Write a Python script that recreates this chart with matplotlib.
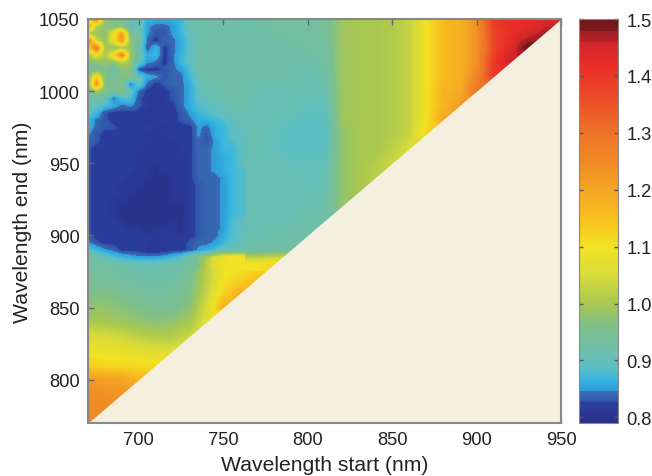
import numpy as np
import matplotlib
matplotlib.use('Agg')
import matplotlib.pyplot as plt
from matplotlib.colors import LinearSegmentedColormap, Normalize

plt.rcParams['font.family'] = ['Liberation Sans', 'DejaVu Sans']

VMIN, VMAX = 0.79, 1.5
BACKGROUND = '#f5efe0'
MIN_BAND = 100  # end is always at least this far above start

# colour stops, value then colour
cmap_values = [0.79, 0.825, 0.825, 0.845, 0.845, 0.865, 0.885, 0.92, 0.96, 1.0, 1.05, 1.1,
               1.15, 1.2, 1.25, 1.3, 1.36, 1.42, 1.46, 1.46, 1.48, 1.48, 1.5]
cmap_colors = ['#2a2f85', '#2b3fa0', '#2f52a8', '#3a6db5', '#2f9ad6', '#35b4e2', '#5bbfc8',
               '#6fbfa8', '#7fc08a', '#a8c850', '#d8dc3a', '#f2e222', '#f8c01e', '#f4a624',
               '#f08a24', '#ee7428', '#ec4c28', '#e92d27', '#d0252a', '#b52025', '#a01f22',
               '#7f1a1c', '#6d1518']

# upper left block, 5 nm steps
detail_starts = list(range(670, 765, 5))
detail_ends = list(range(1050, 875, -5))
detail_rows = [
    [.97, 1.28, .98, .96, .95, .93, .90, .87, .86, .86, .86, .87, .91, .92, .92, .92, .92, .92, .92],
    [1.22, 1.02, .97, .96, .97, .89, .92, .85, .84, .84, .85, .87, .91, .92, .92, .92, .92, .92, .92],
    [1.02, .98, .97, 1.08, 1.22, .96, .92, .85, .83, .83, .85, .87, .90, .92, .92, .92, .92, .92, .92],
    [1.28, 1.05, .98, 1.08, 1.22, .98, .93, .84, .82, .84, .84, .86, .89, .92, .92, .92, .92, .92, .92],
    [1.10, 1.30, 1.0, .98, 1.0, .98, .92, .83, .87, .82, .84, .86, .89, .92, .92, .92, .92, .92, .92],
    [1.0, 1.08, 1.0, 1.10, 1.28, 1.0, .92, .86, .87, .82, .84, .87, .89, .92, .92, .92, .92, .92, .92],
    [.96, .97, .98, .98, 1.02, .98, .90, .85, .84, .82, .84, .87, .89, .92, .92, .92, .92, .92, .92],
    [.93, .94, .96, .92, .97, .97, .83, .82, .82, .83, .84, .85, .88, .92, .92, .92, .92, .92, .92],
    [.95, 1.12, .96, .93, .96, .97, .90, .86, .85, .83, .84, .84, .87, .91, .92, .92, .92, .92, .92],
    [.96, 1.25, .97, .95, .96, .84, .90, .84, .82, .83, .84, .84, .86, .90, .91, .92, .92, .92, .92],
    [.93, 1.0, .96, .94, .96, .90, .84, .82, .82, .82, .83, .84, .86, .89, .91, .91, .92, .92, .92],
    [.91, .92, .92, .84, .88, .88, .83, .82, .81, .82, .83, .84, .86, .89, .90, .91, .91, .92, .92],
    [.90, .90, .88, .86, .84, .85, .83, .82, .81, .82, .82, .84, .86, .88, .89, .90, .91, .91, .92],
    [.89, .87, .83, .82, .82, .82, .82, .81, .81, .82, .82, .83, .85, .87, .88, .89, .90, .91, .91],
    [.87, .84, .83, .82, .82, .82, .82, .81, .81, .82, .82, .83, .84, .86, .86, .87, .88, .90, .91],
    [.86, .84, .83, .83, .82, .82, .82, .82, .81, .81, .82, .82, .82, .85, .84, .86, .87, .89, .90],
    [.85, .83, .82, .82, .82, .82, .82, .81, .81, .81, .82, .82, .82, .85, .83, .86, .87, .89, .90],
    [.84, .83, .82, .82, .82, .82, .82, .81, .81, .81, .81, .82, .82, .84, .83, .85, .87, .88, .89],
    [.83, .82, .82, .82, .82, .82, .81, .81, .81, .81, .81, .82, .82, .84, .84, .85, .87, .87, .89],
    [.83, .82, .82, .82, .82, .82, .81, .81, .81, .81, .81, .81, .82, .84, .84, .85, .86, .87, .89],
    [.83, .82, .82, .82, .82, .82, .81, .81, .81, .81, .81, .81, .82, .84, .84, .85, .86, .87, .89],
    [.83, .82, .82, .82, .82, .82, .81, .81, .80, .81, .81, .81, .82, .84, .84, .85, .86, .87, .88],
    [.83, .82, .82, .82, .82, .81, .81, .81, .80, .80, .81, .81, .82, .84, .84, .84, .85, .87, .88],
    [.83, .82, .82, .82, .81, .81, .81, .80, .80, .80, .81, .81, .82, .83, .84, .84, .85, .87, .88],
    [.83, .82, .82, .82, .81, .81, .80, .80, .80, .80, .81, .81, .82, .83, .84, .84, .85, .87, .88],
    [.83, .82, .82, .81, .81, .80, .80, .80, .80, .80, .81, .81, .82, .83, .84, .84, .85, .87, .88],
    [.83, .82, .82, .81, .80, .80, .80, .80, .80, .80, .80, .80, .82, .83, .84, .84, .85, .87, .88],
    [.83, .82, .82, .81, .80, .80, .80, .80, .80, .80, .80, .80, .82, .83, .84, .84, .85, .87, .88],
    [.83, .82, .82, .82, .81, .80, .80, .80, .80, .80, .81, .80, .82, .83, .84, .84, .85, .88, .89],
    [.83, .82, .82, .82, .82, .81, .81, .80, .81, .81, .81, .80, .82, .83, .84, .84, .85, .88, .89],
    [.83, .82, .82, .82, .82, .82, .82, .81, .81, .81, .82, .81, .82, .83, .84, .84, .86, .88, .90],
    [.85, .83, .82, .82, .82, .82, .82, .82, .81, .81, .82, .82, .83, .84, .84, .85, .87, .89, .90],
    [.89, .87, .85, .84, .82, .82, .82, .81, .81, .81, .82, .82, .83, .85, .86, .88, .90, .91, .91],
    [.92, .92, .90, .88, .87, .86, .85, .85, .85, .86, .87, .89, .93, .96, 1.0, 1.06, 1.09, 1.10, 1.10],
    [.93, .93, .93, .92, .92, .92, .91, .91, .91, .91, .92, .92, .93, .96, 1.02, 1.07, 1.09, 1.10, 1.10],
]

# right block, 10 nm steps, rows stop one cell past the diagonal
right_starts = list(range(760, 960, 10))
right_ends = list(range(1050, 870, -10))
right_rows = [
    [.92, .92, .93, .93, .93, .94, .99, 1.0, 1.0, 1.01, 1.03, 1.10, 1.16, 1.18, 1.24, 1.40, 1.42, 1.42, 1.44, 1.44],
    [.92, .92, .93, .93, .93, .94, .99, 1.0, 1.0, 1.01, 1.03, 1.10, 1.16, 1.18, 1.24, 1.38, 1.42, 1.44, 1.47, 1.47],
    [.92, .92, .92, .92, .93, .93, .99, 1.0, 1.0, 1.01, 1.03, 1.10, 1.16, 1.18, 1.24, 1.37, 1.44, 1.50, 1.50],
    [.92, .92, .92, .92, .92, .93, .99, 1.0, 1.0, 1.01, 1.03, 1.10, 1.16, 1.18, 1.24, 1.40, 1.46, 1.46],
    [.92, .92, .92, .92, .91, .92, .99, 1.0, 1.0, 1.01, 1.03, 1.10, 1.16, 1.18, 1.26, 1.40, 1.40],
    [.92, .91, .91, .91, .91, .91, .99, 1.0, 1.0, 1.01, 1.03, 1.10, 1.17, 1.19, 1.30, 1.30],
    [.91, .91, .91, .91, .90, .90, .99, 1.0, 1.0, 1.01, 1.03, 1.10, 1.17, 1.22, 1.22],
    [.91, .91, .91, .90, .89, .89, .99, 1.0, 1.0, 1.01, 1.03, 1.10, 1.20, 1.20],
    [.91, .91, .90, .89, .89, .89, .98, 1.0, 1.0, 1.01, 1.03, 1.12, 1.12],
    [.91, .91, .90, .89, .89, .89, .98, 1.0, 1.0, 1.02, 1.06, 1.06],
    [.91, .91, .91, .90, .90, .90, .98, 1.0, 1.01, 1.04, 1.04],
    [.91, .91, .91, .91, .90, .91, .98, 1.0, 1.02, 1.02],
    [.91, .91, .91, .91, .91, .91, .98, 1.0, 1.0],
    [.91, .91, .91, .91, .91, .92, .98, .98],
    [.91, .91, .91, .91, .92, .92, .92],
    [.91, .91, .92, .92, .92, .92],
    [.92, .92, .92, .93, .93],
    [1.10, 1.10, 1.12, 1.12],
]

# lower block, 10 nm steps
low_starts = list(range(670, 800, 10))
low_ends = list(range(880, 760, -10))
low_rows = [
    [.93, .93, .92, .91, .91, .92, .93, 1.02, 1.09, 1.10, 1.10, 1.12, 1.12],
    [.94, .94, .93, .92, .92, .92, .95, 1.02, 1.10, 1.12, 1.15, 1.15],
    [.96, .96, .95, .94, .93, .94, .96, 1.03, 1.12, 1.18, 1.18],
    [.98, .98, .97, .96, .95, .95, .97, 1.05, 1.18, 1.20],
    [1.0, 1.0, .99, .98, .97, .98, 1.0, 1.07, 1.10],
    [1.06, 1.05, 1.04, 1.02, 1.01, 1.01, 1.04, 1.07],
    [1.09, 1.08, 1.08, 1.07, 1.06, 1.06, 1.08],
    [1.13, 1.12, 1.11, 1.11, 1.11, 1.11],
    [1.22, 1.21, 1.20, 1.17, 1.15],
    [1.24, 1.24, 1.23, 1.22],
    [1.25, 1.25, 1.24],
    [1.25, 1.25],
]

x_ticks = [700, 750, 800, 850, 900, 950]
y_ticks = [800, 850, 900, 950, 1000, 1050]
bar_ticks = [0.8, 0.9, 1.0, 1.1, 1.2, 1.3, 1.4, 1.5]


def to_grid(rows, width):
    return np.array([r + [r[-1]] * (width - len(r)) for r in rows])


def draw_block(ax, rows, starts, ends, cmap, norm):
    step = starts[1] - starts[0]
    ax.imshow(to_grid(rows, len(starts)), cmap=cmap, norm=norm, aspect='auto', interpolation='bilinear',
              extent=[starts[0] - step / 2, starts[-1] + step / 2, ends[-1] - step / 2, ends[0] + step / 2])


stops = [(v - VMIN) / (VMAX - VMIN) for v in cmap_values]
cmap = LinearSegmentedColormap.from_list('ratio', list(zip(stops, cmap_colors)), N=512)
norm = Normalize(VMIN, VMAX)

fig = plt.figure(figsize=(6.52, 4.77), dpi=100)
ax = fig.add_axes([88 / 652, 1 - 424 / 477, 473 / 652, 404 / 477])
cax = fig.add_axes([579 / 652, 1 - 424 / 477, 39 / 652, 404 / 477])

draw_block(ax, low_rows, low_starts, low_ends, cmap, norm)
draw_block(ax, right_rows, right_starts, right_ends, cmap, norm)
draw_block(ax, detail_rows, detail_starts, detail_ends, cmap, norm)

# everything below the diagonal has no data
diagonal = np.array([670, 950])
ax.fill_between(diagonal, diagonal + MIN_BAND, 770, color=BACKGROUND, lw=0, zorder=3)

ax.set_xlim(670, 950)
ax.set_ylim(770, 1050)
ax.set_xticks(x_ticks)
ax.set_yticks(y_ticks)
ax.set_xlabel('Wavelength start (nm)', fontsize=15.2, color='#222222', labelpad=5)
ax.set_ylabel('Wavelength end (nm)', fontsize=15.2, color='#222222', labelpad=5)
ax.tick_params(direction='in', length=4, width=1, color='#666666', labelsize=13.2, labelcolor='#222222',
               top=True, right=True, pad=6)

cb = fig.colorbar(plt.cm.ScalarMappable(norm=norm, cmap=cmap), cax=cax, ticks=bar_ticks)
cb.ax.set_yticklabels(['%.1f' % t for t in bar_ticks])
cb.ax.tick_params(direction='in', length=3, width=1, color='#555555', labelsize=13.2, labelcolor='#222222',
                  left=True, right=True, pad=6)
cb.outline.set_edgecolor('#888888')

for spine in ax.spines.values():
    spine.set_edgecolor('#888888')
    spine.set_linewidth(1.5)
    spine.set_zorder(5)

fig.savefig('out.png', dpi=100)
